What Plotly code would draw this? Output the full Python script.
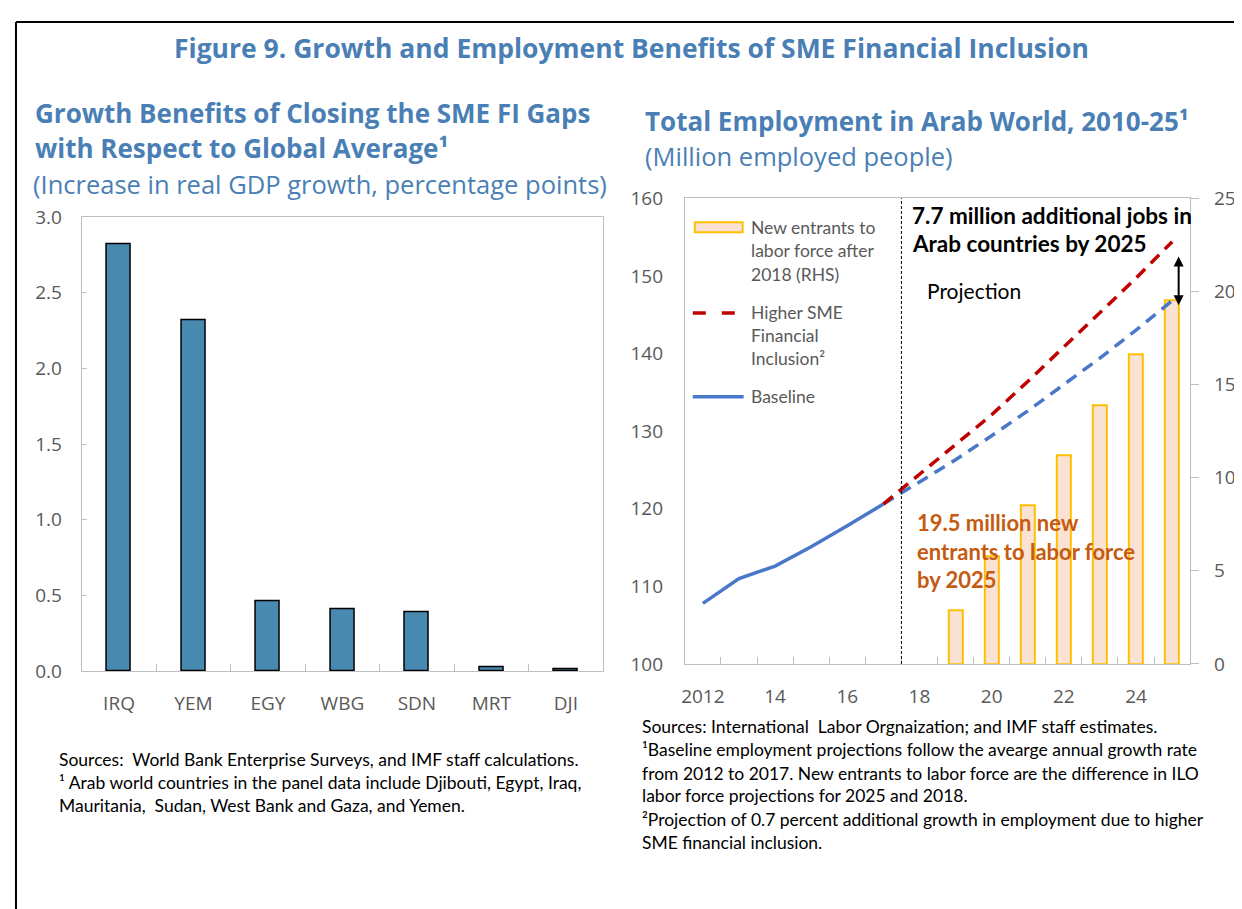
import plotly.graph_objects as go

W, H = 1242, 909

# The page is photographed with a small offset and a slight vertical squeeze;
# these helpers map reference-picture pixels to paper fractions.
X_OFF, Y_OFF, Y_SCALE = 10.0, 20.3, 0.974


def px(x):
    return (x - X_OFF) / W


def py(y):
    return 1 - ((y - Y_OFF) / Y_SCALE) / H


# ---------------- data ----------------
countries = ["IRQ", "YEM", "EGY", "WBG", "SDN", "MRT", "DJI"]
gdp_gain = [2.82, 2.32, 0.46, 0.41, 0.39, 0.025, 0.012]

years_hist = [2012, 2013, 2014, 2015, 2016, 2017]
baseline_hist = [107.8, 111.0, 112.6, 115.1, 117.8, 120.6]

years_proj = [2017, 2018, 2019, 2020, 2021, 2022, 2023, 2024, 2025]
baseline_proj = [120.6, 123.4, 126.3, 129.4, 132.6, 136.0, 139.4, 143.0, 146.8]
higher_sme = [120.6, 124.4, 128.3, 132.1, 136.4, 140.8, 145.2, 149.7, 154.4]

entrant_years = [2019, 2020, 2021, 2022, 2023, 2024, 2025]
new_entrants = [2.9, 5.8, 8.5, 11.2, 13.9, 16.6, 19.5]

x_tickvals = [2012, 2014, 2016, 2018, 2020, 2022, 2024]
x_ticktext = ["2012", "14", "16", "18", "20", "22", "24"]

# ---------------- styles ----------------
TITLE_FONT = "Open Sans"
BODY_FONT = "Lato"
TITLE_BLUE = "#4A7FB5"
TICK_GRAY = "#595959"
AXIS_GRAY = "#BFBFBF"
BAR_BLUE = "#4889AF"
PEACH = "#FBE2D5"
GOLD = "#FFC000"
RED = "#C00000"
BLUE = "#4A78C8"
ORANGE_TXT = "#C55A11"

fig = go.Figure()

# Left panel bars
fig.add_trace(go.Bar(
    x=countries, y=gdp_gain, width=0.32,
    marker=dict(color=BAR_BLUE, line=dict(color="black", width=1.5)),
    xaxis="x", yaxis="y", showlegend=False, hoverinfo="x+y",
))

# Right panel: bars (RHS axis y2), lines (LHS axis y3)
fig.add_trace(go.Bar(
    x=entrant_years, y=new_entrants, width=0.38,
    marker=dict(color=PEACH, line=dict(color=GOLD, width=2)),
    xaxis="x2", yaxis="y2", showlegend=False,
    name="New entrants to labor force after 2018 (RHS)",
))
fig.add_trace(go.Scatter(
    x=years_proj, y=baseline_proj, mode="lines",
    line=dict(color=BLUE, width=3.5, dash="12px,8px"),
    xaxis="x2", yaxis="y3", showlegend=False, name="Baseline (projection)",
))
fig.add_trace(go.Scatter(
    x=years_proj, y=higher_sme, mode="lines",
    line=dict(color=RED, width=3.5, dash="12px,8px"),
    xaxis="x2", yaxis="y3", showlegend=False, name="Higher SME Financial Inclusion",
))
fig.add_trace(go.Scatter(
    x=years_hist, y=baseline_hist, mode="lines",
    line=dict(color=BLUE, width=3.5),
    xaxis="x2", yaxis="y3", showlegend=False, name="Baseline",
))

tickfont = dict(family=TITLE_FONT, size=19, color=TICK_GRAY)

fig.update_layout(
    width=W, height=H,
    margin=dict(l=0, r=0, t=0, b=0),
    paper_bgcolor="white", plot_bgcolor="white",
    bargap=0,
    xaxis=dict(
        domain=[px(80), px(603)], anchor="y", type="category",
        showline=True, linecolor=AXIS_GRAY, linewidth=1, mirror=True,
        ticks="inside", tickson="boundaries", ticklen=7, tickcolor=AXIS_GRAY,
        tickfont=tickfont, ticklabelstandoff=15, showgrid=False,
    ),
    yaxis=dict(
        domain=[py(672), py(217)], anchor="x", range=[0, 3], dtick=0.5,
        tickformat=".1f", showline=True, linecolor=AXIS_GRAY, linewidth=1,
        mirror=True, ticks="inside", ticklen=5, tickcolor=AXIS_GRAY,
        tickfont=tickfont, ticklabelstandoff=15, showgrid=False, zeroline=False,
    ),
    xaxis2=dict(
        domain=[px(685), px(1192)], anchor="y2", range=[2011.5, 2025.5],
        tickvals=x_tickvals, ticktext=x_ticktext, ticks="",
        minor=dict(tick0=2011.5, dtick=1, ticks="inside", ticklen=7,
                   tickcolor=AXIS_GRAY, showgrid=False),
        showline=True, linecolor=AXIS_GRAY, linewidth=1, mirror=True,
        tickfont=tickfont, ticklabelstandoff=15, showgrid=False,
    ),
    yaxis2=dict(
        domain=[py(665), py(198)], anchor="x2", side="right",
        range=[0, 25], dtick=5, showline=True, linecolor=AXIS_GRAY,
        ticks="outside", ticklen=8, tickcolor=AXIS_GRAY,
        tickfont=tickfont, ticklabelstandoff=11, showgrid=False, zeroline=False,
    ),
    yaxis3=dict(
        overlaying="y2", anchor="x2", side="left", range=[100, 160], dtick=10,
        showline=True, linecolor=AXIS_GRAY, ticks="",
        tickfont=tickfont, ticklabelstandoff=17, showgrid=False, zeroline=False,
    ),
)

annotations = []


def txt(x, y, s, size, color, family=BODY_FONT, xanchor="left", bold=False):
    if bold:
        s = "<b>" + s + "</b>"
    annotations.append(dict(
        x=px(x), y=py(y), xref="paper", yref="paper", text=s, showarrow=False,
        xanchor=xanchor, yanchor="middle", align="left",
        font=dict(family=family, size=size, color=color),
    ))


# Titles
txt(632, 47, "Figure 9. Growth and Employment Benefits of SME Financial Inclusion",
    26.5, TITLE_BLUE, TITLE_FONT, xanchor="center", bold=True)
txt(31, 113, "Growth Benefits of Closing the SME FI Gaps", 26, TITLE_BLUE, TITLE_FONT, bold=True)
txt(31, 148, "with Respect to Global Average¹", 26, TITLE_BLUE, TITLE_FONT, bold=True)
txt(29, 184, "(Increase in real GDP growth, percentage points)", 25.5, TITLE_BLUE, TITLE_FONT)
txt(643, 121, "Total Employment in Arab World, 2010-25¹", 26, TITLE_BLUE, TITLE_FONT, bold=True)
txt(643, 156, "(Million employed people)", 25.5, TITLE_BLUE, TITLE_FONT)

# Legend (right panel)
LEG = 17.5
txt(749, 227, "New entrants to", LEG, TICK_GRAY)
txt(749, 250, "labor force after", LEG, TICK_GRAY)
txt(749, 274, "2018 (RHS)", LEG, TICK_GRAY)
txt(749, 313, "Higher SME", LEG, TICK_GRAY)
txt(749, 336, "Financial", LEG, TICK_GRAY)
txt(749, 359, "Inclusion²", LEG, TICK_GRAY)
txt(749, 397, "Baseline", LEG, TICK_GRAY)

# In-chart annotations
txt(911, 215, "7.7 million additional jobs in", 22.5, "black", bold=True)
txt(911, 243, "Arab countries by 2025", 22.5, "black", bold=True)
txt(926, 291, "Projection", 21, "black")
txt(916, 523, "19.5 million new", 22, ORANGE_TXT, bold=True)
txt(916, 552, "entrants to labor force", 22, ORANGE_TXT, bold=True)
txt(916, 580, "by 2025", 22, ORANGE_TXT, bold=True)

# Footnotes
FN = 17.5
txt(55, 761, "Sources:  World Bank Enterprise Surveys, and IMF staff calculations.", FN, "black")
txt(55, 784, "¹ Arab world countries in the panel data include Djibouti, Egypt, Iraq,", FN, "black")
txt(55, 807, "Mauritania,  Sudan, West Bank and Gaza, and Yemen.", FN, "black")
txt(640, 728, "Sources: International  Labor Orgnaization; and IMF staff estimates.", FN, "black")
txt(640, 751, "¹Baseline employment projections follow the avearge annual growth rate", FN, "black")
txt(640, 775, "from 2012 to 2017. New entrants to labor force are the difference in ILO", FN, "black")
txt(640, 797, "labor force projections for 2025 and 2018.", FN, "black")
txt(640, 821, "²Projection of 0.7 percent additional growth in employment due to higher", FN, "black")
txt(640, 844, "SME financial inclusion.", FN, "black")

# Double-headed arrow between scenarios in 2025
annotations.append(dict(
    x=2025.18, y=146.2, xref="x2", yref="y3",
    ax=2025.18, ay=152.7, axref="x2", ayref="y3",
    text="", showarrow=True, arrowhead=2, startarrowhead=2,
    arrowside="end+start", arrowsize=1, arrowwidth=2, arrowcolor="black",
))

fig.update_layout(annotations=annotations)

top_y = 1 - 1.0 / H
shapes = [
    # outer frame (top and left edges)
    dict(type="line", xref="paper", yref="paper", x0=px(14), x1=1.01,
         y0=top_y, y1=top_y, line=dict(color="black", width=2)),
    dict(type="line", xref="paper", yref="paper", x0=px(14), x1=px(14),
         y0=top_y, y1=-0.01, line=dict(color="black", width=2)),
    # projection divider
    dict(type="line", xref="x2", yref="y2 domain", x0=2017.5, x1=2017.5,
         y0=0, y1=1, line=dict(color="black", width=1, dash="3px,2px")),
    # legend swatches
    dict(type="rect", xref="paper", yref="paper", x0=px(695), x1=px(743),
         y0=py(232), y1=py(222), fillcolor=PEACH, line=dict(color=GOLD, width=2)),
    dict(type="line", xref="paper", yref="paper", x0=px(693), x1=px(736),
         y0=py(313), y1=py(313), line=dict(color=RED, width=3.5, dash="13px,16px")),
    dict(type="line", xref="paper", yref="paper", x0=px(693), x1=px(744),
         y0=py(397), y1=py(397), line=dict(color=BLUE, width=3.5)),
]
fig.update_layout(shapes=shapes)

fig.write_html("out.html")
